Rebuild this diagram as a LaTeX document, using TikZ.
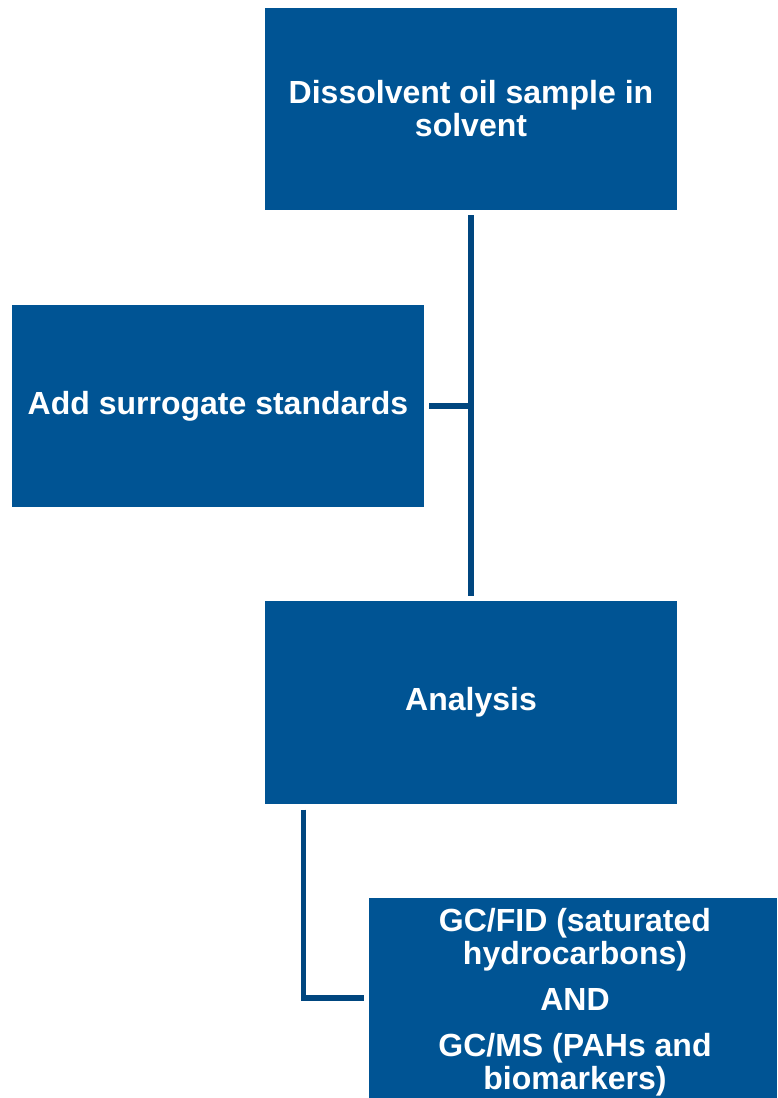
\documentclass[tikz,border=0pt]{standalone}
\usepackage{fontspec}
\setmainfont{Liberation Sans}
\definecolor{boxblue}{RGB}{0,84,148}
\definecolor{lineblue}{RGB}{0,70,127}
\begin{document}
\begin{tikzpicture}[x=1pt,y=-1pt,
  stepbox/.style={rectangle, fill=boxblue, draw=none, text=white, inner sep=0pt,
    font=\bfseries\fontsize{32}{33}\selectfont, align=center},
  conn/.style={draw=lineblue, line width=5.5pt}]
\useasboundingbox (0,0) rectangle (777,1098);
\node[stepbox, minimum width=412pt, minimum height=202pt] (b1) at (471,109) {Dissolvent oil sample in\\solvent};
\node[stepbox, minimum width=412pt, minimum height=202pt] (b2) at (218,406) {Add surrogate standards};
\node[stepbox, minimum width=412pt, minimum height=203pt] (b3) at (471,702.5) {Analysis};
\node[stepbox, minimum width=408pt, minimum height=200pt] (b4) at (573,998) {};
\node[text=white, inner sep=0pt, align=center, font=\bfseries\fontsize{32}{33}\selectfont] (t4) at ([xshift=2pt,yshift=-4.5pt]b4.center) {GC/FID (saturated\\hydrocarbons)\\[13pt]AND\\[13pt]GC/MS (PAHs and\\biomarkers)};
\draw[conn, shorten <=5pt, shorten >=5pt] (b1.south) -- (b3.north);
\coordinate (j1) at (b2.east -| b1.south);
\draw[conn, shorten <=5pt] (b2.east) -- (j1);
\draw[conn] ([xshift=38.5pt,yshift=-5.5pt]b3.south west) |- ([xshift=-5pt]b4.west);
\end{tikzpicture}
\end{document}
